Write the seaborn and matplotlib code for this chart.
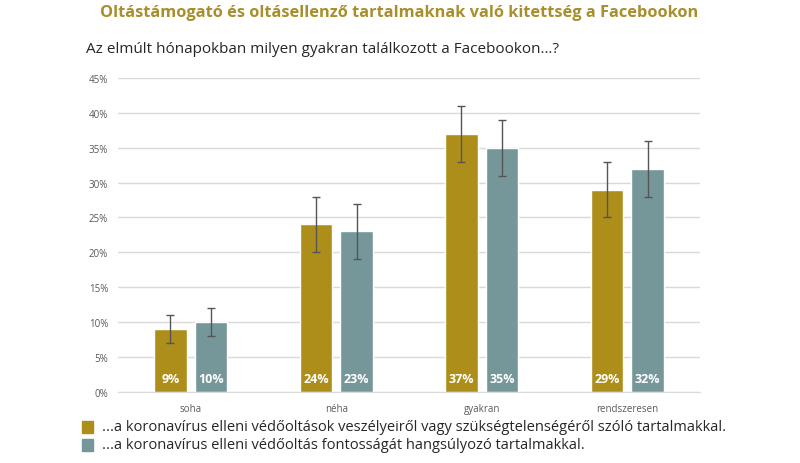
import numpy as np
import pandas as pd
import matplotlib
matplotlib.use("Agg")
import matplotlib.pyplot as plt
import seaborn as sns

# ------------------ Data ------------------
categories = ["soha", "néha", "gyakran", "rendszeresen"]
series_names = [
    "...a koronavírus elleni védőoltások veszélyeiről vagy szükségtelenségéről szóló tartalmakkal.",
    "...a koronavírus elleni védőoltás fontosságát hangsúlyozó tartalmakkal.",
]
anti_vals = [9, 24, 37, 29]
pro_vals = [10, 23, 35, 32]
anti_err = [2, 4, 4, 4]
pro_err = [2, 4, 4, 4]
yticks = [0, 5, 10, 15, 20, 25, 30, 35, 40, 45]

gold = "#AD8E1B"
teal = "#76979A"

df = pd.DataFrame({
    "Kategória": categories * 2,
    "Sorozat": [series_names[0]] * 4 + [series_names[1]] * 4,
    "Érték": anti_vals + pro_vals,
    "Hiba": anti_err + pro_err,
})

# ------------------ Plot ------------------
sns.set_style("white")
plt.rcParams["font.family"] = ["Open Sans", "DejaVu Sans"]

fig = plt.figure(figsize=(8, 4.64), dpi=100)
ax = fig.add_axes([0.1475, 0.153, 0.7275, 0.677])

sns.barplot(data=df, x="Kategória", y="Érték", hue="Sorozat",
            palette=[gold, teal], saturation=1, width=0.56, gap=0.2,
            errorbar=None, legend=False, ax=ax, zorder=2)

# error bars and value labels on top of the seaborn bars
n = len(categories)
for i, patch in enumerate(ax.patches[:2 * n]):
    x = patch.get_x() + patch.get_width() / 2
    val = df["Érték"].iloc[i]
    err = df["Hiba"].iloc[i]
    ax.errorbar(x, val, yerr=err, fmt="none", ecolor="#555555",
                elinewidth=1, capsize=3, capthick=1, zorder=3)
    ax.text(x, 1.0, f"{val}%", ha="center", va="bottom", color="white",
            fontsize=9, fontweight="bold", zorder=4)

ax.set_xlim(-0.5, n - 0.5)
ax.set_ylim(0, 45)
ax.set_yticks(yticks)
ax.set_yticklabels([f"{t}%" for t in yticks])
ax.yaxis.grid(True, color="#D9D9D9", linewidth=1)
ax.set_axisbelow(True)
ax.tick_params(axis="y", length=0, labelsize=7, colors="#595959", pad=7)
ax.tick_params(axis="x", length=0, labelsize=7, colors="#595959", pad=8)
for s in ["top", "right", "left"]:
    ax.spines[s].set_visible(False)
ax.spines["bottom"].set_color("#D9D9D9")
ax.set_xlabel("")
ax.set_ylabel("")

fig.text(0.499, 0.973, "Oltástámogató és oltásellenző tartalmaknak való kitettség a Facebookon",
         ha="center", va="center", fontsize=11.8, fontweight="bold", color="#A88F2C")
fig.text(0.108, 0.893, "Az elmúlt hónapokban milyen gyakran találkozott a Facebookon…?",
         ha="left", va="center", fontsize=11, color="#262626")

# legend at the bottom left
for j, (name, col) in enumerate(zip(series_names, [gold, teal])):
    yy = 0.078 - j * 0.039
    fig.patches.append(plt.Rectangle((0.103, yy - 0.013), 0.0135, 0.026,
                                     transform=fig.transFigure, color=col))
    fig.text(0.127, yy, name, ha="left", va="center", fontsize=10.5, color="#262626")

plt.savefig("out.png", dpi=100)
plt.close()
